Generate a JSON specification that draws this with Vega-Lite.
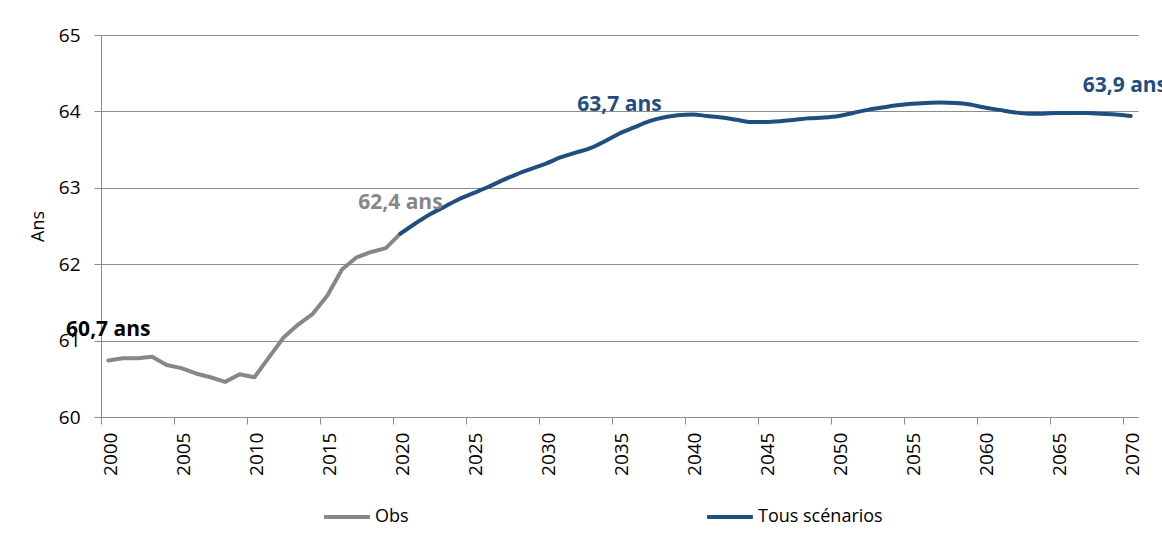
{
  "$schema": "https://vega.github.io/schema/vega-lite/v6.json",
  "autosize": "none",
  "width": 1037,
  "height": 382,
  "padding": {"left": 101, "top": 35, "right": 24, "bottom": 117},
  "background": "white",
  "config": {
    "font": "Open Sans",
    "view": {"stroke": null},
    "axis": {"domainColor": "#8c8c8c", "tickColor": "#8c8c8c", "gridColor": "#8c8c8c", "labelColor": "#000000", "titleColor": "#000000", "labelFont": "Open Sans", "titleFont": "Open Sans"}
  },
  "data": {
    "values": [
      {"year": 2000, "value": 60.74, "series": "Obs"},
      {"year": 2001, "value": 60.77, "series": "Obs"},
      {"year": 2002, "value": 60.77, "series": "Obs"},
      {"year": 2003, "value": 60.79, "series": "Obs"},
      {"year": 2004, "value": 60.68, "series": "Obs"},
      {"year": 2005, "value": 60.64, "series": "Obs"},
      {"year": 2006, "value": 60.57, "series": "Obs"},
      {"year": 2007, "value": 60.52, "series": "Obs"},
      {"year": 2008, "value": 60.46, "series": "Obs"},
      {"year": 2009, "value": 60.56, "series": "Obs"},
      {"year": 2010, "value": 60.52, "series": "Obs"},
      {"year": 2011, "value": 60.78, "series": "Obs"},
      {"year": 2012, "value": 61.04, "series": "Obs"},
      {"year": 2013, "value": 61.21, "series": "Obs"},
      {"year": 2014, "value": 61.35, "series": "Obs"},
      {"year": 2015, "value": 61.59, "series": "Obs"},
      {"year": 2016, "value": 61.93, "series": "Obs"},
      {"year": 2017, "value": 62.09, "series": "Obs"},
      {"year": 2018, "value": 62.16, "series": "Obs"},
      {"year": 2019, "value": 62.21, "series": "Obs"},
      {"year": 2020, "value": 62.40, "series": "Obs"},
      {"year": 2020, "value": 62.40, "series": "Tous scénarios"},
      {"year": 2021, "value": 62.53, "series": "Tous scénarios"},
      {"year": 2022, "value": 62.65, "series": "Tous scénarios"},
      {"year": 2023, "value": 62.75, "series": "Tous scénarios"},
      {"year": 2024, "value": 62.85, "series": "Tous scénarios"},
      {"year": 2025, "value": 62.93, "series": "Tous scénarios"},
      {"year": 2026, "value": 63.01, "series": "Tous scénarios"},
      {"year": 2027, "value": 63.10, "series": "Tous scénarios"},
      {"year": 2028, "value": 63.18, "series": "Tous scénarios"},
      {"year": 2029, "value": 63.25, "series": "Tous scénarios"},
      {"year": 2030, "value": 63.32, "series": "Tous scénarios"},
      {"year": 2031, "value": 63.40, "series": "Tous scénarios"},
      {"year": 2032, "value": 63.46, "series": "Tous scénarios"},
      {"year": 2033, "value": 63.52, "series": "Tous scénarios"},
      {"year": 2034, "value": 63.61, "series": "Tous scénarios"},
      {"year": 2035, "value": 63.71, "series": "Tous scénarios"},
      {"year": 2036, "value": 63.79, "series": "Tous scénarios"},
      {"year": 2037, "value": 63.87, "series": "Tous scénarios"},
      {"year": 2038, "value": 63.92, "series": "Tous scénarios"},
      {"year": 2039, "value": 63.95, "series": "Tous scénarios"},
      {"year": 2040, "value": 63.96, "series": "Tous scénarios"},
      {"year": 2041, "value": 63.94, "series": "Tous scénarios"},
      {"year": 2042, "value": 63.92, "series": "Tous scénarios"},
      {"year": 2043, "value": 63.89, "series": "Tous scénarios"},
      {"year": 2044, "value": 63.86, "series": "Tous scénarios"},
      {"year": 2045, "value": 63.86, "series": "Tous scénarios"},
      {"year": 2046, "value": 63.87, "series": "Tous scénarios"},
      {"year": 2047, "value": 63.89, "series": "Tous scénarios"},
      {"year": 2048, "value": 63.91, "series": "Tous scénarios"},
      {"year": 2049, "value": 63.92, "series": "Tous scénarios"},
      {"year": 2050, "value": 63.94, "series": "Tous scénarios"},
      {"year": 2051, "value": 63.98, "series": "Tous scénarios"},
      {"year": 2052, "value": 64.02, "series": "Tous scénarios"},
      {"year": 2053, "value": 64.05, "series": "Tous scénarios"},
      {"year": 2054, "value": 64.08, "series": "Tous scénarios"},
      {"year": 2055, "value": 64.10, "series": "Tous scénarios"},
      {"year": 2056, "value": 64.11, "series": "Tous scénarios"},
      {"year": 2057, "value": 64.115, "series": "Tous scénarios"},
      {"year": 2058, "value": 64.11, "series": "Tous scénarios"},
      {"year": 2059, "value": 64.09, "series": "Tous scénarios"},
      {"year": 2060, "value": 64.05, "series": "Tous scénarios"},
      {"year": 2061, "value": 64.02, "series": "Tous scénarios"},
      {"year": 2062, "value": 63.99, "series": "Tous scénarios"},
      {"year": 2063, "value": 63.97, "series": "Tous scénarios"},
      {"year": 2064, "value": 63.97, "series": "Tous scénarios"},
      {"year": 2065, "value": 63.98, "series": "Tous scénarios"},
      {"year": 2066, "value": 63.98, "series": "Tous scénarios"},
      {"year": 2067, "value": 63.98, "series": "Tous scénarios"},
      {"year": 2068, "value": 63.97, "series": "Tous scénarios"},
      {"year": 2069, "value": 63.96, "series": "Tous scénarios"},
      {"year": 2070, "value": 63.94, "series": "Tous scénarios"}
    ]
  },
  "encoding": {
    "x": {
      "field": "year",
      "type": "quantitative",
      "scale": {"domain": [2000, 2071], "nice": false, "zero": false},
      "axis": {
        "title": null,
        "values": [2000, 2005, 2010, 2015, 2020, 2025, 2030, 2035, 2040, 2045, 2050, 2055, 2060, 2065, 2070],
        "format": "d",
        "labelAngle": -90,
        "labelFontSize": 19,
        "labelOffset": 9,
        "labelPadding": 8,
        "tickSize": 7,
        "grid": false,
        "labelFlush": false,
        "labelOverlap": false
      }
    },
    "y": {
      "field": "value",
      "type": "quantitative",
      "scale": {"domain": [60, 65], "nice": false, "zero": false},
      "axis": {
        "title": "Ans",
        "titleFontSize": 18,
        "titleFontWeight": "normal",
        "titlePadding": 11,
        "values": [60, 61, 62, 63, 64, 65],
        "labelFontSize": 19,
        "labelPadding": 14,
        "tickSize": 7,
        "grid": true,
        "labelFlush": false
      }
    }
  },
  "layer": [
    {
      "transform": [{"filter": "datum.series === 'Obs'"}],
      "mark": {"type": "line", "strokeWidth": 4, "strokeCap": "round", "strokeJoin": "round", "xOffset": 7.3},
      "encoding": {
        "color": {
          "field": "series",
          "type": "nominal",
          "scale": {"domain": ["Obs", "Tous scénarios"], "range": ["#878787", "#1F4E80"]},
          "legend": {
            "title": null,
            "orient": "none",
            "direction": "horizontal",
            "legendX": 221,
            "legendY": 457,
            "padding": 0,
            "symbolType": "stroke",
            "symbolSize": 2100,
            "symbolStrokeWidth": 4,
            "labelFontSize": 18,
            "labelFont": "Open Sans",
            "labelColor": "#000000",
            "labelOffset": 3,
            "labelBaseline": "middle",
            "columnPadding": 290
          }
        }
      }
    },
    {
      "transform": [{"filter": "datum.series === 'Tous scénarios'"}],
      "mark": {"type": "line", "strokeWidth": 4, "strokeCap": "round", "strokeJoin": "round", "interpolate": "monotone", "xOffset": 7.3},
      "encoding": {
        "color": {"field": "series", "type": "nominal"}
      }
    },
    {
      "data": {
        "values": [
          {"year": 2000, "value": 61.14, "label": "60,7 ans"},
          {"year": 2020, "value": 62.80, "label": "62,4 ans"},
          {"year": 2035, "value": 64.08, "label": "63,7 ans"},
          {"year": 2069.6, "value": 64.33, "label": "63,9 ans"}
        ]
      },
      "mark": {"type": "text", "font": "Open Sans", "fontWeight": "bold", "fontSize": 21, "align": "center", "baseline": "middle", "xOffset": 7.3},
      "encoding": {
        "text": {"field": "label"},
        "color": {
          "condition": [
            {"test": "datum.label === '60,7 ans'", "value": "#000000"},
            {"test": "datum.label === '62,4 ans'", "value": "#878787"}
          ],
          "value": "#1F4E80"
        }
      }
    }
  ]
}
